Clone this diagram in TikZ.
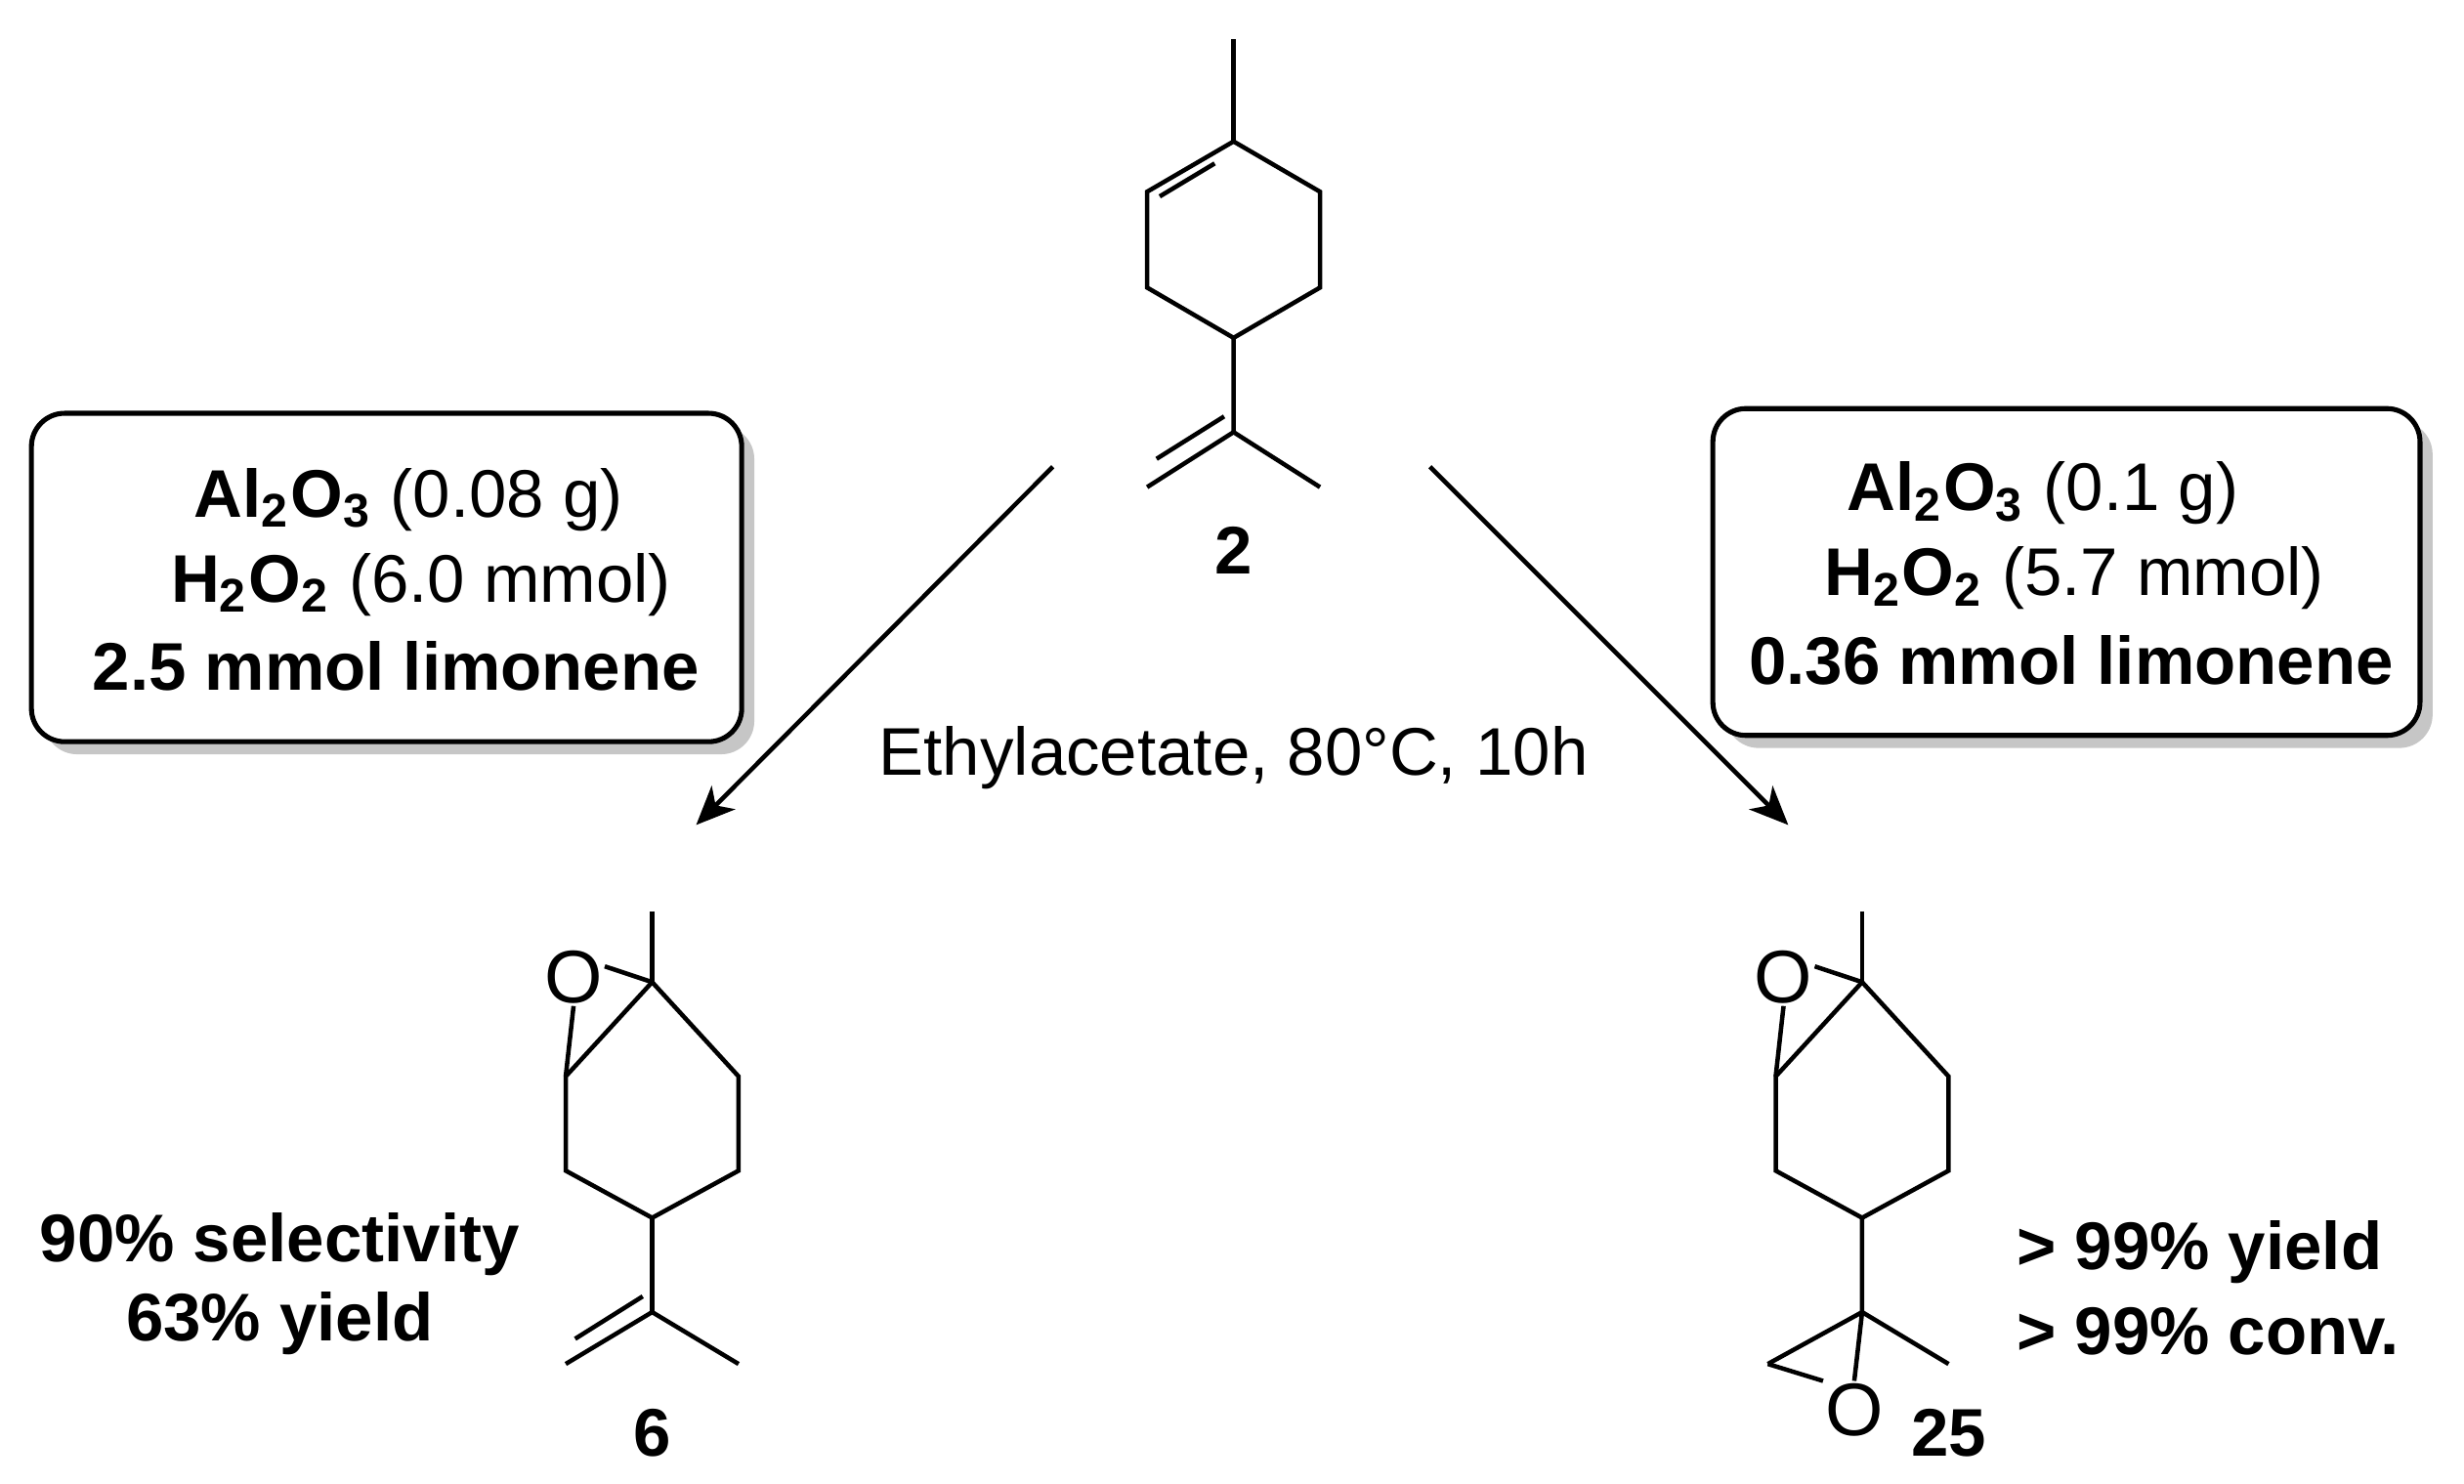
\documentclass[tikz,border=0pt]{standalone}
\usepackage{fontspec}
\usetikzlibrary{arrows.meta}
\setmainfont{Liberation Sans}
\begin{document}
\begin{tikzpicture}[x=0.01cm,y=-0.01cm,line width=0.8pt,
 txt/.style={font=\fontsize{12.2}{14}\selectfont,inner sep=0pt},
 bt/.style={txt,font=\fontsize{12.2}{14}\selectfont\bfseries},
 cbox/.style={draw,rounded corners=6pt,fill=white,line width=0.9pt},
 shad/.style={fill=gray!45,rounded corners=6pt},
 arr/.style={-{Stealth[length=7pt,width=6pt,inset=2pt]}}]
\useasboundingbox (0,0) rectangle (1568,944);
% molecule 2
\draw (785,25)--(785,90);
\draw (785,90)--(840,122)--(840,183)--(785,215)--(730,183)--(730,122)--cycle;
\draw (773,104)--(738,125);
\draw (785,215)--(785,275)--(840,310);
\draw (785,275)--(730,310);
\draw (779,265)--(736,292);
\node[bt] (n2) at (785,350) {2};
% boxes
\path[shad] (28,271) rectangle (480,480);
\path[cbox] (20,263) rectangle (472,472);
\node[txt] (l1) at (260,318) {\textbf{Al\textsubscript{2}O\textsubscript{3}} (0.08 g)};
\node[txt] (l2) at (268,372) {\textbf{H\textsubscript{2}O\textsubscript{2}} (6.0 mmol)};
\node[bt] (l3) at (252,424) {2.5 mmol limonene};
\path[shad] (1098,268) rectangle (1548,476);
\path[cbox] (1090,260) rectangle (1540,468);
\node[txt] (r1) at (1300,314) {\textbf{Al\textsubscript{2}O\textsubscript{3}} (0.1 g)};
\node[txt] (r2) at (1320,368) {\textbf{H\textsubscript{2}O\textsubscript{2}} (5.7 mmol)};
\node[bt] (r3) at (1318,420) {0.36 mmol limonene};
% arrows
\coordinate (a1) at (670,297); \coordinate (a2) at (443,525);
\coordinate (b1) at (910,297); \coordinate (b2) at (1138,525);
\draw[arr] (a1)--(a2);
\draw[arr] (b1)--(b2);
\node[txt] (cond) at (785,482) {Ethylacetate, 80°C, 10h};
% product 6
\draw (415,580)--(415,625);
\draw (415,625)--(470,685)--(470,745)--(415,775)--(360,745)--(360,685)--cycle;
\node[txt] (o6) at (365,622) {\fontsize{13.5}{15}\selectfont O};
\draw ([yshift=2pt]o6.east) -- (415,625);
\draw (o6.south)--(360,685);
\draw (415,775)--(415,835)--(470,868);
\draw (415,835)--(360,868);
\draw (409,825)--(366,852);
\node[bt] (n6) at (415,912) {6};
\node[bt] (s1) at (178,792) {90\% selectivity};
\node[bt] (s2) at (178,842) {63\% yield};
% product 25
\draw (1185,580)--(1185,625);
\draw (1185,625)--(1240,685)--(1240,745)--(1185,775)--(1130,745)--(1130,685)--cycle;
\node[txt] (o25) at (1135,622) {\fontsize{13.5}{15}\selectfont O};
\draw ([yshift=2pt]o25.east) -- (1185,625);
\draw (o25.south)--(1130,685);
\draw (1185,775)--(1185,835)--(1240,868);
\draw (1185,835)--(1125,868);
\node[txt] (ob) at (1180,897) {\fontsize{13.5}{15}\selectfont O};
\draw (1125,868)--(ob.north west);
\draw (1185,835)--(ob.north);
\node[bt] (n25) at (1240,912) {25};
\node[bt,anchor=west] (t1) at (1282,797) {> 99\% yield};
\node[bt,anchor=west] (t2) at (1282,847) {> 99\% conv.};
\end{tikzpicture}
\end{document}
